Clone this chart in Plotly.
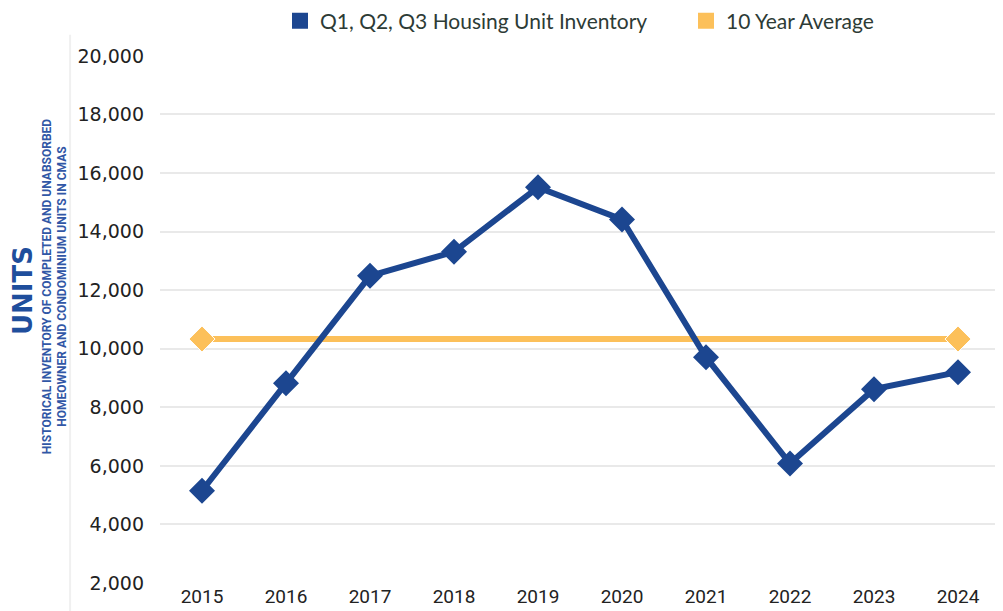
import plotly.graph_objects as go

# chart data
years = ['2015', '2016', '2017', '2018', '2019', '2020', '2021', '2022', '2023', '2024']
inventory = [5150, 8820, 12490, 13310, 15510, 14410, 9710, 6080, 8620, 9200]
ten_year_avg = [10330] * len(years)
y_ticks = [2000, 4000, 6000, 8000, 10000, 12000, 14000, 16000, 18000, 20000]

BLUE = '#1c4690'
ORANGE = '#fcc05a'

# the page body has an 8px margin, so the figure is sized to sit inside the window
W, H = 995, 603

# the average line only shows markers at its ends
avg_sizes = [20 if i in (0, len(years) - 1) else 0 for i in range(len(years))]

fig = go.Figure()

fig.add_trace(go.Scatter(x=years, y=ten_year_avg, mode='lines+markers',
                         line=dict(color=ORANGE, width=6),
                         marker=dict(symbol='diamond', size=avg_sizes, color=ORANGE, opacity=1),
                         showlegend=False))
fig.add_trace(go.Scatter(x=years, y=inventory, mode='lines+markers',
                         line=dict(color=BLUE, width=6),
                         marker=dict(symbol='diamond', size=20, color=BLUE),
                         showlegend=False))

# legend entries as squares, one legend each so they can be placed freely
fig.add_trace(go.Scatter(x=[None], y=[None], mode='markers', name='Q1, Q2, Q3 Housing Unit Inventory',
                         marker=dict(symbol='square', size=25, color=BLUE), legend='legend'))
fig.add_trace(go.Scatter(x=[None], y=[None], mode='markers', name='10 Year Average',
                         marker=dict(symbol='square', size=25, color=ORANGE), legend='legend2'))

# faint vertical divider on the left
fig.add_shape(type='line', xref='paper', yref='paper', x0=-0.107, x1=-0.107, y0=-0.06, y1=1.04,
              line=dict(color='#f0f0f0', width=2))

fig.add_annotation(text='<b>UNITS</b>', xref='paper', yref='paper', x=-0.163, y=0.554,
                   xanchor='center', yanchor='middle', borderpad=0,
                   textangle=-90, showarrow=False, font=dict(family='DejaVu Sans', size=26, color='#1f4e9c'))
fig.add_annotation(text='<b>HISTORICAL INVENTORY OF COMPLETED AND UNABSORBED<br>HOMEOWNER AND CONDOMINIUM UNITS IN CMAS</b>',
                   xref='paper', yref='paper', x=-0.125, y=0.563, xanchor='center', yanchor='middle',
                   textangle=-90, showarrow=False,
                   font=dict(family='Roboto', size=12, color='#3157a6'))

legend_style = dict(orientation='h', xref='container', yref='container', yanchor='middle',
                    y=1 - 13 / H, xanchor='left',
                    font=dict(family='Lato', size=21, color='#2d3b36'),
                    bgcolor='rgba(0,0,0,0)')

fig.update_layout(
    width=W, height=H,
    margin=dict(l=152, r=3, t=46, b=24),
    paper_bgcolor='white', plot_bgcolor='white',
    font=dict(family='Lato', color='#222222'),
    legend=dict(legend_style, x=272 / W),
    legend2=dict(legend_style, x=678 / W),
    xaxis=dict(type='category', range=[-0.5, len(years) - 0.5], showgrid=False, showline=False,
               zeroline=False,
               tickfont=dict(family='Roboto', size=19, color='#222222')),
    yaxis=dict(range=[2000, 20000], tickvals=y_ticks, tickformat=',', showline=False, zeroline=False,
               gridcolor='#e9e9e9', gridwidth=2, ticklabelstandoff=15,
               tickfont=dict(family='DejaVu Sans', size=19, color='#222222')),
)

fig.write_html('out.html')
